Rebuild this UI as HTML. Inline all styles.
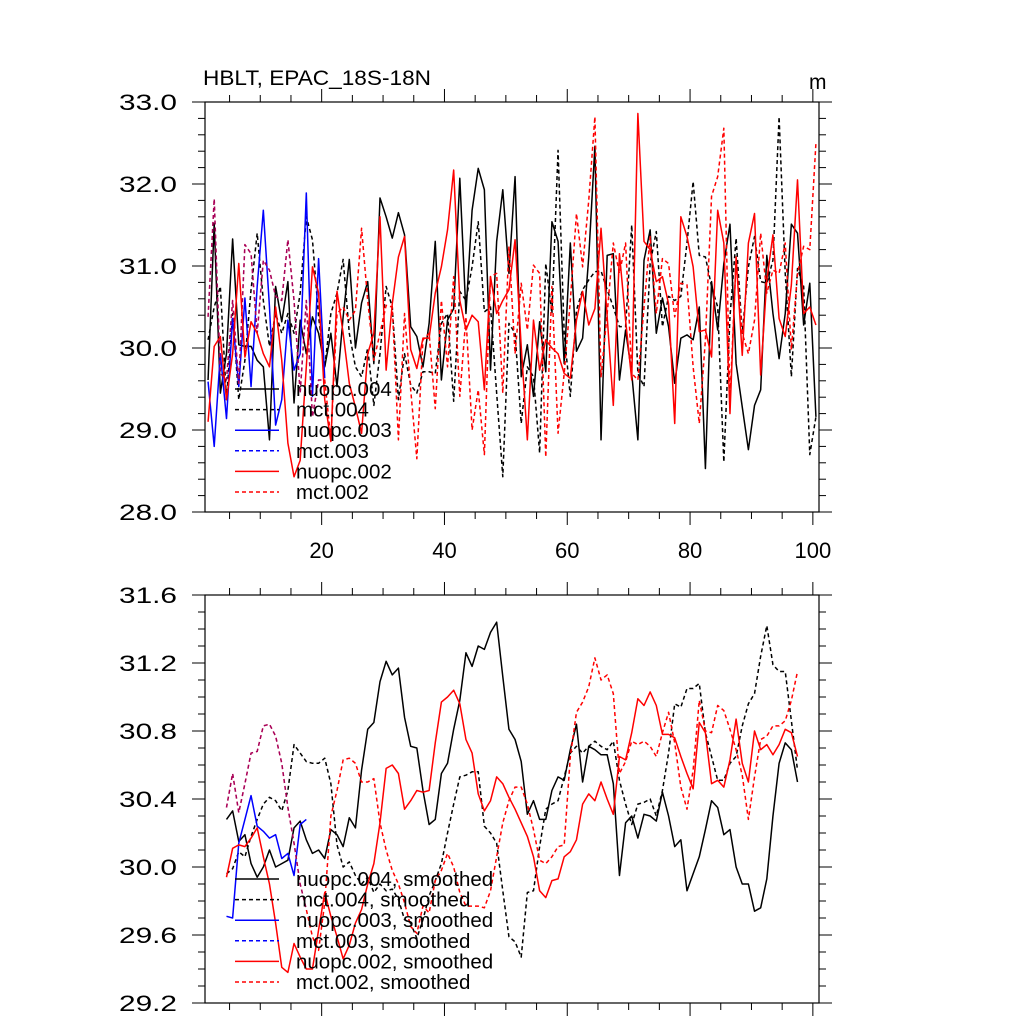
<!DOCTYPE html>
<html><head><meta charset="utf-8"><style>
html,body{margin:0;padding:0;background:#fff;}
svg{display:block;font-family:"Liberation Sans",sans-serif;}
</style></head><body>
<svg id="chart" width="1024" height="1024" viewBox="0 0 1024 1024" xmlns="http://www.w3.org/2000/svg">
<rect width="1024" height="1024" fill="#fff"/>
<text x="203" y="85" font-size="21" textLength="228" lengthAdjust="spacingAndGlyphs">HBLT, EPAC_18S-18N</text>
<text x="809" y="89" font-size="21">m</text>
<g id="top"></g>
<g id="bot"></g>
</svg>
<script>
// ---------- data: raw annual values (year = 1.5 + index) ----------
const nuopc004 = [29.61,31.52,29.45,29.93,31.33,30.04,30.02,30.02,29.85,29.77,28.88,30.75,30.32,30.81,29.33,30.34,29.93,30.38,30.18,29.77,30.18,29.53,30.38,31.08,30.0,30.55,30.81,29.81,31.83,31.6,31.34,31.65,31.38,30.26,30.14,29.77,30.3,31.3,29.61,30.34,30.48,32.07,30.42,31.68,32.19,31.93,29.73,31.3,31.93,30.91,32.09,29.65,30.04,29.41,30.32,29.71,31.54,31.3,29.81,31.28,29.96,30.12,31.11,32.46,28.88,31.13,31.15,29.61,30.22,29.69,28.88,31.07,31.44,30.18,30.61,30.26,29.57,30.12,30.16,30.1,30.5,28.53,30.81,30.22,31.03,31.51,29.81,29.28,28.76,29.3,29.49,31.13,30.42,29.87,30.42,31.51,31.4,30.28,30.79,29.16];
const mct004 = [30.1,30.5,30.75,29.37,30.42,29.37,29.85,30.71,31.4,30.58,30.02,30.42,30.18,30.42,30.18,30.67,31.6,31.32,30.38,29.77,30.42,30.67,31.08,30.18,29.77,29.65,30.0,29.3,29.93,30.75,30.5,29.37,29.93,29.55,29.45,29.71,29.71,29.69,30.3,30.42,29.35,30.69,30.58,30.99,31.54,30.44,30.5,29.45,28.43,30.3,30.18,29.08,29.77,29.65,28.72,31.03,30.42,32.41,30.18,29.41,30.46,30.71,30.83,30.93,30.94,30.71,30.5,30.26,30.26,31.5,29.69,29.53,31.03,31.42,30.26,30.63,30.58,30.63,31.28,32.03,31.13,31.11,30.75,30.5,28.61,30.38,31.34,30.18,30.99,31.36,30.81,30.79,31.07,32.82,30.91,29.65,30.97,30.75,28.7,29.16];
const nuopc003 = [29.59,28.8,29.93,29.14,30.36,29.53,30.61,29.53,30.75,31.68,30.5,29.06,29.37,30.34,29.73,29.93,31.89,29.41,31.09,29.63];
const mct003 = [30.38,31.82,29.69,29.61,30.58,29.57,31.26,31.15,30.18,31.07,30.95,30.63,30.58,31.32,30.58,29.45,30.58,29.16,29.61,29.61];
const nuopc002 = [29.1,30.02,30.14,29.37,29.93,31.03,29.89,30.32,30.18,29.93,29.77,30.5,29.85,28.84,28.43,28.63,29.77,30.99,30.67,29.37,28.86,30.69,30.18,29.57,29.28,28.96,29.93,30.18,31.6,29.73,30.54,31.11,31.36,29.98,29.75,30.12,30.12,30.67,30.99,31.44,32.17,30.58,30.22,30.4,30.32,29.49,30.87,30.42,30.58,30.71,31.32,30.02,28.88,30.34,29.73,30.1,30.0,29.93,29.69,29.63,30.34,30.69,30.28,30.48,31.46,30.38,29.3,31.15,30.34,29.61,32.86,31.3,31.2,30.81,30.87,30.54,29.08,31.6,31.36,30.99,30.2,30.22,29.89,31.68,31.28,29.2,31.11,29.91,31.28,31.64,29.67,30.83,31.38,30.36,30.14,30.77,32.05,30.42,30.5,30.28];
const mct002 = [30.38,31.82,29.69,29.61,30.58,29.57,31.26,31.15,30.18,31.07,30.95,30.63,30.58,31.32,30.58,29.45,30.58,29.16,29.61,29.61,28.88,30.42,30.5,30.34,30.46,31.46,30.58,29.85,30.18,30.52,30.5,28.88,30.42,29.49,28.65,30.1,30.18,29.26,30.58,29.77,30.87,29.41,30.38,29.0,29.49,28.7,30.87,30.91,29.45,31.24,29.93,30.79,30.22,31.01,30.91,28.67,30.75,28.96,29.69,30.58,31.64,30.99,31.8,32.82,29.65,30.42,31.28,30.91,31.28,29.69,29.61,30.5,31.36,30.42,31.09,31.03,30.38,30.79,30.77,29.77,29.08,30.1,31.85,32.09,32.68,29.37,31.07,30.18,29.93,30.34,31.4,30.67,30.95,30.91,31.28,29.98,30.91,31.24,31.2,32.5];
// ---------- data: smoothed values (year = 4.5 + index) ----------
const nuopc004s = [30.28,30.33,30.15,30.19,30.02,29.94,30.0,30.1,30.0,30.02,30.04,30.23,30.27,30.16,30.08,30.1,30.05,30.22,30.19,30.12,30.29,30.23,30.57,30.81,30.85,31.09,31.21,31.13,31.17,30.88,30.71,30.7,30.45,30.25,30.28,30.55,30.61,30.81,30.98,31.26,31.18,31.3,31.28,31.38,31.44,31.12,30.81,30.75,30.62,30.31,30.39,30.28,30.28,30.45,30.53,30.51,30.69,30.84,30.5,30.71,30.69,30.66,30.66,30.49,29.95,30.26,30.3,30.17,30.31,30.3,30.27,30.44,30.3,30.12,30.16,29.86,29.96,30.06,30.22,30.39,30.35,30.19,30.22,30.0,29.9,29.9,29.74,29.76,29.93,30.3,30.61,30.73,30.69,30.5];
const mct004s = [29.96,29.99,30.09,30.06,30.18,30.28,30.37,30.41,30.39,30.33,30.45,30.72,30.67,30.62,30.61,30.61,30.64,30.49,30.13,30.0,30.03,29.95,29.9,29.94,29.85,29.9,29.86,29.87,29.81,29.69,29.67,29.58,29.69,29.83,29.92,30.02,30.2,30.37,30.53,30.54,30.56,30.56,30.24,30.2,30.14,29.86,29.59,29.56,29.47,29.85,29.86,30.12,30.34,30.37,30.39,30.53,30.67,30.71,30.67,30.71,30.74,30.71,30.69,30.74,30.51,30.37,30.25,30.37,30.38,30.4,30.3,30.45,30.67,30.96,30.94,31.05,31.05,31.08,30.79,30.65,30.51,30.51,30.61,30.65,30.83,30.96,31.02,31.24,31.42,31.19,31.15,31.15,30.86,30.57];
const nuopc003s = [29.71,29.7,30.14,30.28,30.42,30.24,30.21,30.17,30.19,30.05,30.08,29.95,30.25,30.28];
const mct003s = [30.35,30.55,30.32,30.49,30.67,30.68,30.83,30.84,30.77,30.61,30.35,30.14,29.9,29.75];
const nuopc002s = [29.94,30.11,30.13,30.12,30.17,30.23,30.06,29.9,29.67,29.41,29.38,29.55,29.47,29.4,29.4,29.63,29.85,29.71,29.59,29.46,29.54,29.67,29.75,29.9,30.02,30.26,30.58,30.6,30.55,30.34,30.39,30.45,30.44,30.45,30.73,30.97,31.0,31.04,30.96,30.75,30.67,30.43,30.33,30.39,30.53,30.49,30.41,30.34,30.26,30.18,30.06,29.86,29.82,29.92,29.93,30.06,30.09,30.16,30.37,30.43,30.39,30.5,30.4,30.31,30.65,30.63,30.79,30.99,30.95,31.03,30.95,30.78,30.78,30.76,30.65,30.55,30.46,30.85,30.79,30.49,30.51,30.47,30.63,30.87,30.61,30.5,30.8,30.69,30.72,30.66,30.72,30.81,30.79,30.65];
const mct002s = [30.35,30.55,30.32,30.49,30.67,30.68,30.83,30.84,30.77,30.61,30.35,30.14,29.9,29.75,29.59,29.51,29.79,30.3,30.45,30.63,30.64,30.61,30.5,30.5,30.52,30.26,30.1,29.98,29.9,29.79,29.65,29.61,29.77,29.73,29.92,29.98,30.08,30.0,29.85,29.77,29.77,29.77,29.76,29.86,30.06,30.26,30.39,30.47,30.47,30.37,30.22,30.04,30.02,30.06,30.12,30.13,30.65,30.91,30.97,31.06,31.23,31.1,31.13,31.02,30.55,30.62,30.74,30.72,30.74,30.71,30.65,30.79,30.91,30.73,30.47,30.34,30.57,30.98,30.8,30.79,30.95,30.92,30.81,30.69,30.54,30.28,30.53,30.75,30.77,30.83,30.83,30.86,30.98,31.15];
const topYTicks = ["28.0","29.0","30.0","31.0","32.0","33.0"];
const botYTicks = ["29.2","29.6","30.0","30.4","30.8","31.2","31.6"];
const xTickLabels = ["20","40","60","80","100"];
const topLegend = ["nuopc.004","mct.004","nuopc.003","mct.003","nuopc.002","mct.002"];
const botLegend = ["nuopc.004, smoothed","mct.004, smoothed","nuopc.003, smoothed","mct.003, smoothed","nuopc.002, smoothed","mct.002, smoothed"];

const NS="http://www.w3.org/2000/svg";
const L=205,R=819,XMIN=1,XMAX=101;
const sx=v=>L+(v-XMIN)*(R-L)/(XMAX-XMIN);
function mk(tag,attrs,parent){const e=document.createElementNS(NS,tag);for(const k in attrs)e.setAttribute(k,attrs[k]);parent.appendChild(e);return e;}

function panel(g,top,bot,ymin,ymax,yMajor,yMinor,yLabels,showX,series,legend,legX,legY0,legDy){
  const sy=v=>bot-(v-ymin)*(bot-top)/(ymax-ymin);
  for(let v=ymin;v<=ymax+1e-6;v+=yMinor){
    const maj=Math.abs((v-ymin)/yMajor-Math.round((v-ymin)/yMajor))<1e-6;
    const y=sy(v);
    const t1=mk('line',{x1:L-(maj?13:7),x2:L,y1:y,y2:y,stroke:'#000','stroke-width':1},g);
    
    
    const t2=mk('line',{x1:R,x2:R+(maj?13:7),y1:y,y2:y,stroke:'#000','stroke-width':1},g);
    
    
  }
  yLabels.forEach((s,i)=>{
    const t=mk('text',{x:119,y:sy(ymin+i*yMajor)+8,'font-size':22,textLength:58,lengthAdjust:'spacingAndGlyphs'},g);
    t.textContent=s;
    
    
  });
  for(let v=5;v<=XMAX;v+=5){
    const maj=v%20===0;const x=sx(v);
    const a=mk('line',{x1:x,x2:x,y1:bot,y2:bot+(maj?13:7),stroke:'#000','stroke-width':1},g);
    
    
    const b=mk('line',{x1:x,x2:x,y1:top-(maj?13:7),y2:top,stroke:'#000','stroke-width':1},g);
    
    
  }
  if(showX){
    xTickLabels.forEach(s=>{
      const t=mk('text',{x:sx(+s),y:bot+46,'font-size':22,'text-anchor':'middle'},g);
      t.textContent=s;
      
      
    });
  }
  const clipId='c'+top;
  const cp=mk('clipPath',{id:clipId},g);
  mk('rect',{x:L,y:top,width:R-L,height:bot-top},cp);
  series.forEach(s=>{
    const pts=s.data.map((v,i)=>sx(s.x0+i).toFixed(2)+','+sy(v).toFixed(2)).join(' ');
    const p=mk('polyline',{points:pts,fill:'none',stroke:s.color,'stroke-width':1.5,'stroke-linejoin':'round','clip-path':'url(#'+clipId+')'},g);
    if(s.dash)p.setAttribute('stroke-dasharray','4,3');
    if(s.op)p.setAttribute('stroke-opacity',s.op);
    
    
  });
  const fr=mk('rect',{x:L,y:top,width:R-L,height:bot-top,fill:'none',stroke:'#000','stroke-width':1.2},g);
  
  
  legend.forEach((s,i)=>{
    const st=series.find(q=>q.leg===i);
    const y=legY0+i*legDy;
    const ln=mk('line',{x1:legX,x2:legX+44,y1:y,y2:y,stroke:st.color,'stroke-width':1.5},g);
    if(st.dash)ln.setAttribute('stroke-dasharray','4,3');
    
    
    const t=mk('text',{x:296,y:y+7,'font-size':20.5},g);
    t.textContent=s;
    
    
  });
}
panel(document.getElementById('top'),102,512,28,33,1,0.2,topYTicks,true,[
  {data:mct004,x0:1.5,color:'#000',dash:1,name:'mct004-line',leg:1},
  {data:nuopc004,x0:1.5,color:'#000',name:'nuopc004-line',leg:0},
  {data:nuopc003,x0:1.5,color:'#0000ff',name:'nuopc003-line',leg:2},
  {data:mct002,x0:1.5,color:'#ff0000',dash:1,name:'mct002-line',leg:5},
  {data:mct003,x0:1.5,color:'#0000ff',dash:1,op:0.35,name:'mct003-line',leg:3},
  {data:nuopc002,x0:1.5,color:'#ff0000',name:'nuopc002-line',leg:4}
],topLegend,235,389,20.6);
panel(document.getElementById('bot'),595,1003,29.2,31.6,0.4,0.1,botYTicks,false,[
  {data:mct004s,x0:4.5,color:'#000',dash:1,name:'mct004-smoothed-line',leg:1},
  {data:nuopc004s,x0:4.5,color:'#000',name:'nuopc004-smoothed-line',leg:0},
  {data:nuopc003s,x0:4.5,color:'#0000ff',name:'nuopc003-smoothed-line',leg:2},
  {data:mct002s,x0:4.5,color:'#ff0000',dash:1,name:'mct002-smoothed-line',leg:5},
  {data:mct003s,x0:4.5,color:'#0000ff',dash:1,op:0.35,name:'mct003-smoothed-line',leg:3},
  {data:nuopc002s,x0:4.5,color:'#ff0000',name:'nuopc002-smoothed-line',leg:4}
],botLegend,235,879,20.6);
</script>
</body></html>
